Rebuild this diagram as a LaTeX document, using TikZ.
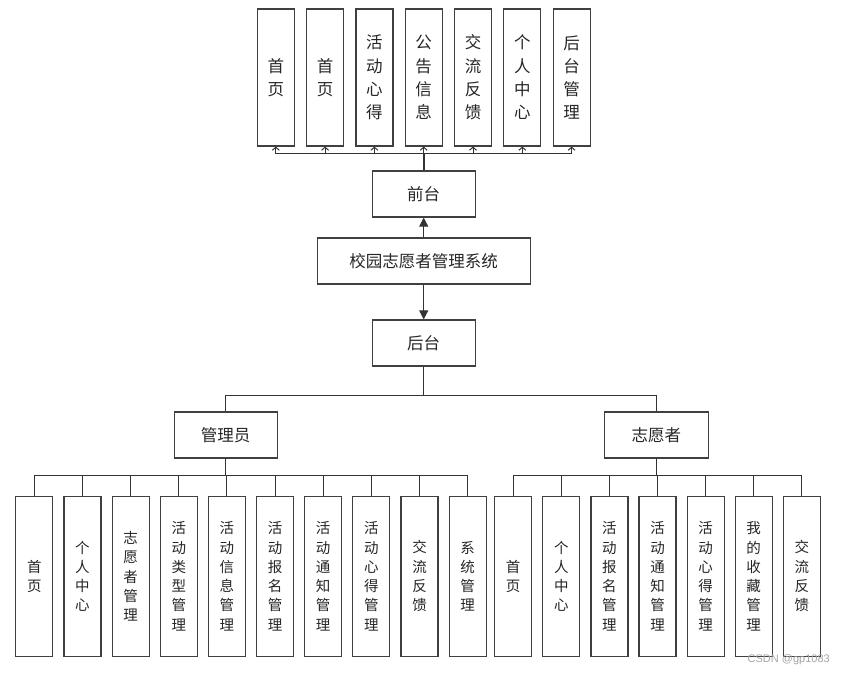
\documentclass[tikz,border=0pt]{standalone}
\usepackage{fontspec}
\newfontfamily\cjk{Noto Sans CJK SC}
\setsansfont{Liberation Sans}
\usetikzlibrary{arrows.meta}
\begin{document}
\begin{tikzpicture}[x=1pt,y=-1pt,
 box/.style={draw=black!75, line width=1.2pt, fill=white, inner sep=0pt, align=center, font=\cjk\fontsize{16.5}{23.3}\selectfont, text=black!85},
 tall/.style={box, minimum width=37pt, minimum height=137pt},
 mid/.style={box, minimum width=103pt, minimum height=46pt},
 low/.style={box, minimum width=37pt, minimum height=160pt, font=\cjk\fontsize{14.5}{19.3}\selectfont},
 link/.style={draw=black!80, line width=1pt},
 openarrow/.style={link, -{Straight Barb[length=3pt,width=7pt]}},
 fillarrow/.style={link, -{Triangle[length=9pt,width=9pt]}}]
\useasboundingbox[fill=white] (0,0) rectangle (845,676);

% top row
\foreach \t [count=\i from 0] in {{首\\页},{首\\页},{活\\动\\心\\得},{公\\告\\信\\息},{交\\流\\反\\馈},{个\\人\\中\\心},{后\\台\\管\\理}}
  \node[tall] (t\i) at (275.8+49.3*\i, 77.5) {\t};

\node[mid] (qt) at (423.7,194) {前台};
\node[mid, minimum width=213pt] (sys) at (423.7,261) {校园志愿者管理系统};
\node[mid] (ht) at (423.7,343) {后台};
\node[mid] (adm) at (225.7,435) {管理员};
\node[mid, minimum width=104pt] (vol) at (656.3,435) {志愿者};

\foreach \i in {0,...,6}
  \draw[openarrow] (qt.north) -- ++(0,-17) -| (t\i.south);
\draw[link, line width=2pt] (qt.north) -- ++(0,-17);

\draw[fillarrow] (sys.north) -- (qt.south);
\draw[fillarrow] (sys.south) -- (ht.north);

\draw[link] (ht.south) -- ++(0,29) -| (adm.north);
\draw[link] (ht.south) -- ++(0,29) -| (vol.north);

% admin children
\foreach \t [count=\i from 0] in {{首\\页},{个\\人\\中\\心},{志\\愿\\者\\管\\理},{活\\动\\类\\型\\管\\理},{活\\动\\信\\息\\管\\理},{活\\动\\报\\名\\管\\理},{活\\动\\通\\知\\管\\理},{活\\动\\心\\得\\管\\理},{交\\流\\反\\馈},{系\\统\\管\\理}}
  \node[low] (a\i) at (34.3+48.15*\i, 576.3) {\t};
\foreach \i in {0,...,9}
  \draw[link] (adm.south) -- ++(0,17.3) -| (a\i.north);

% volunteer children
\foreach \t [count=\i from 0] in {{首\\页},{个\\人\\中\\心},{活\\动\\报\\名\\管\\理},{活\\动\\通\\知\\管\\理},{活\\动\\心\\得\\管\\理},{我\\的\\收\\藏\\管\\理},{交\\流\\反\\馈}}
  \node[low] (v\i) at (513.2+48.1*\i, 576.3) {\t};
\foreach \i in {0,...,6}
  \draw[link] (vol.south) -- ++(0,17.3) -| (v\i.north);

\node[font=\sffamily\fontsize{11}{11}\selectfont, text=black!35, anchor=east, inner sep=0pt] (wm) at (830,660) {CSDN @gp1083};
\end{tikzpicture}
\end{document}
